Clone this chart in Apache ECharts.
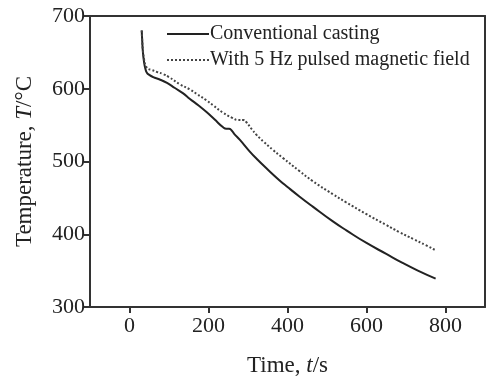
<!DOCTYPE html>
<html>
<head>
<meta charset="utf-8">
<script src="https://cdn.jsdelivr.net/npm/echarts@6/dist/echarts.min.js"></script>
<style>
  html, body { margin: 0; padding: 0; background: #fff; }
  #chart { width: 487px; height: 382px; }
</style>
</head>
<body>
<div id="chart"></div>
<script>
const seriesNames = ['Conventional casting', 'With 5 Hz pulsed magnetic field'];

// conventional casting curve (time s, temperature C)
const convTime = [31, 32, 34, 37, 40, 44, 50, 60, 75, 95, 115, 135, 153, 175, 195, 215, 237, 245, 252, 258, 265, 279, 304, 325, 346, 380, 400, 430, 464, 514, 550, 600, 650, 690, 730, 775];
const convTemp = [680, 668, 650, 636, 628, 622, 619, 616, 613, 608, 601, 594, 586, 577, 568, 558, 547, 545, 545, 543, 538, 530, 514, 502, 491, 474, 465, 452, 438, 418, 405, 388, 373, 361, 350, 339];

// with pulsed magnetic field
const pulsTime = [31, 32, 34, 37, 40, 44, 48, 55, 70, 86, 100, 128, 153, 170, 195, 212, 237, 260, 275, 288, 296, 310, 321, 340, 363, 388, 430, 464, 515, 548, 599, 649, 683, 720, 750, 775];
const pulsTemp = [680, 668, 652, 640, 633, 629, 627, 626, 623, 620, 616, 606, 599, 593, 584, 577, 567, 560, 557, 557, 554, 544, 537, 527, 516, 505, 487, 473, 455, 444, 428, 413, 403, 393, 385, 378];

const FONT = '"Liberation Serif", "Times New Roman", serif';
const INK = '#222';
const AXIS = '#333';

const chart = echarts.init(document.getElementById('chart'));

const toPairs = (xs, ys) => xs.map((x, i) => [x, ys[i]]);

const frameAxis = {
  axisLine: { show: true, onZero: false, lineStyle: { color: AXIS, width: 2 } },
  axisTick: { show: false },
  axisLabel: { show: false },
  splitLine: { show: false }
};

const option = {
  animation: false,
  grid: { left: 90, top: 16, right: 2, bottom: 70 },
  legend: {
    orient: 'vertical',
    left: 166, top: 24,
    padding: 0,
    itemWidth: 42, itemHeight: 14, itemGap: 6,
    itemStyle: { opacity: 0 },
    textStyle: { fontFamily: FONT, fontSize: 20, color: INK, lineHeight: 20, padding: [0, 0, 0, -4] },
    data: seriesNames
  },
  xAxis: [{
    type: 'value',
    min: -100, max: 900,
    splitNumber: 5,
    name: 'Time, {i|t}/s',
    nameLocation: 'middle',
    nameGap: 47,
    nameTextStyle: {
      fontFamily: FONT, fontSize: 23, color: INK,
      rich: { i: { fontFamily: FONT, fontSize: 23, fontStyle: 'italic', color: INK } }
    },
    axisLine: { show: true, onZero: false, lineStyle: { color: AXIS, width: 2 } },
    axisTick: { show: true, inside: false, length: 6, lineStyle: { color: AXIS, width: 2 } },
    axisLabel: { fontFamily: FONT, fontSize: 22, color: INK, margin: 8,
      showMinLabel: false, showMaxLabel: false },
    splitLine: { show: false }
  }, Object.assign({ type: 'value', position: 'top', min: -100, max: 900 }, frameAxis)],
  yAxis: [{
    type: 'value',
    min: 300, max: 700, interval: 100,
    name: 'Temperature, {i|T}/°C',
    nameLocation: 'middle',
    nameGap: 54,
    nameTextStyle: {
      fontFamily: FONT, fontSize: 23, color: INK,
      rich: { i: { fontFamily: FONT, fontSize: 23, fontStyle: 'italic', color: INK } }
    },
    axisLine: { show: true, onZero: false, lineStyle: { color: AXIS, width: 2 } },
    axisTick: { show: true, inside: false, length: 6, lineStyle: { color: AXIS, width: 2 } },
    axisLabel: { fontFamily: FONT, fontSize: 22, color: INK, margin: 5 },
    splitLine: { show: false }
  }, Object.assign({ type: 'value', position: 'right', min: 300, max: 700 }, frameAxis)],
  series: [
    {
      name: seriesNames[0],
      type: 'line',
      data: toPairs(convTime, convTemp),
      symbol: 'none',
      smooth: 0.5,
      lineStyle: { color: INK, width: 2 },
      itemStyle: { color: INK }
    },
    {
      name: seriesNames[1],
      type: 'line',
      data: toPairs(pulsTime, pulsTemp),
      symbol: 'none',
      smooth: 0.5,
      lineStyle: { color: '#444', width: 2, type: [2, 2] },
      itemStyle: { color: '#444' }
    }
  ]
};

chart.setOption(option);
</script>
</body>
</html>
